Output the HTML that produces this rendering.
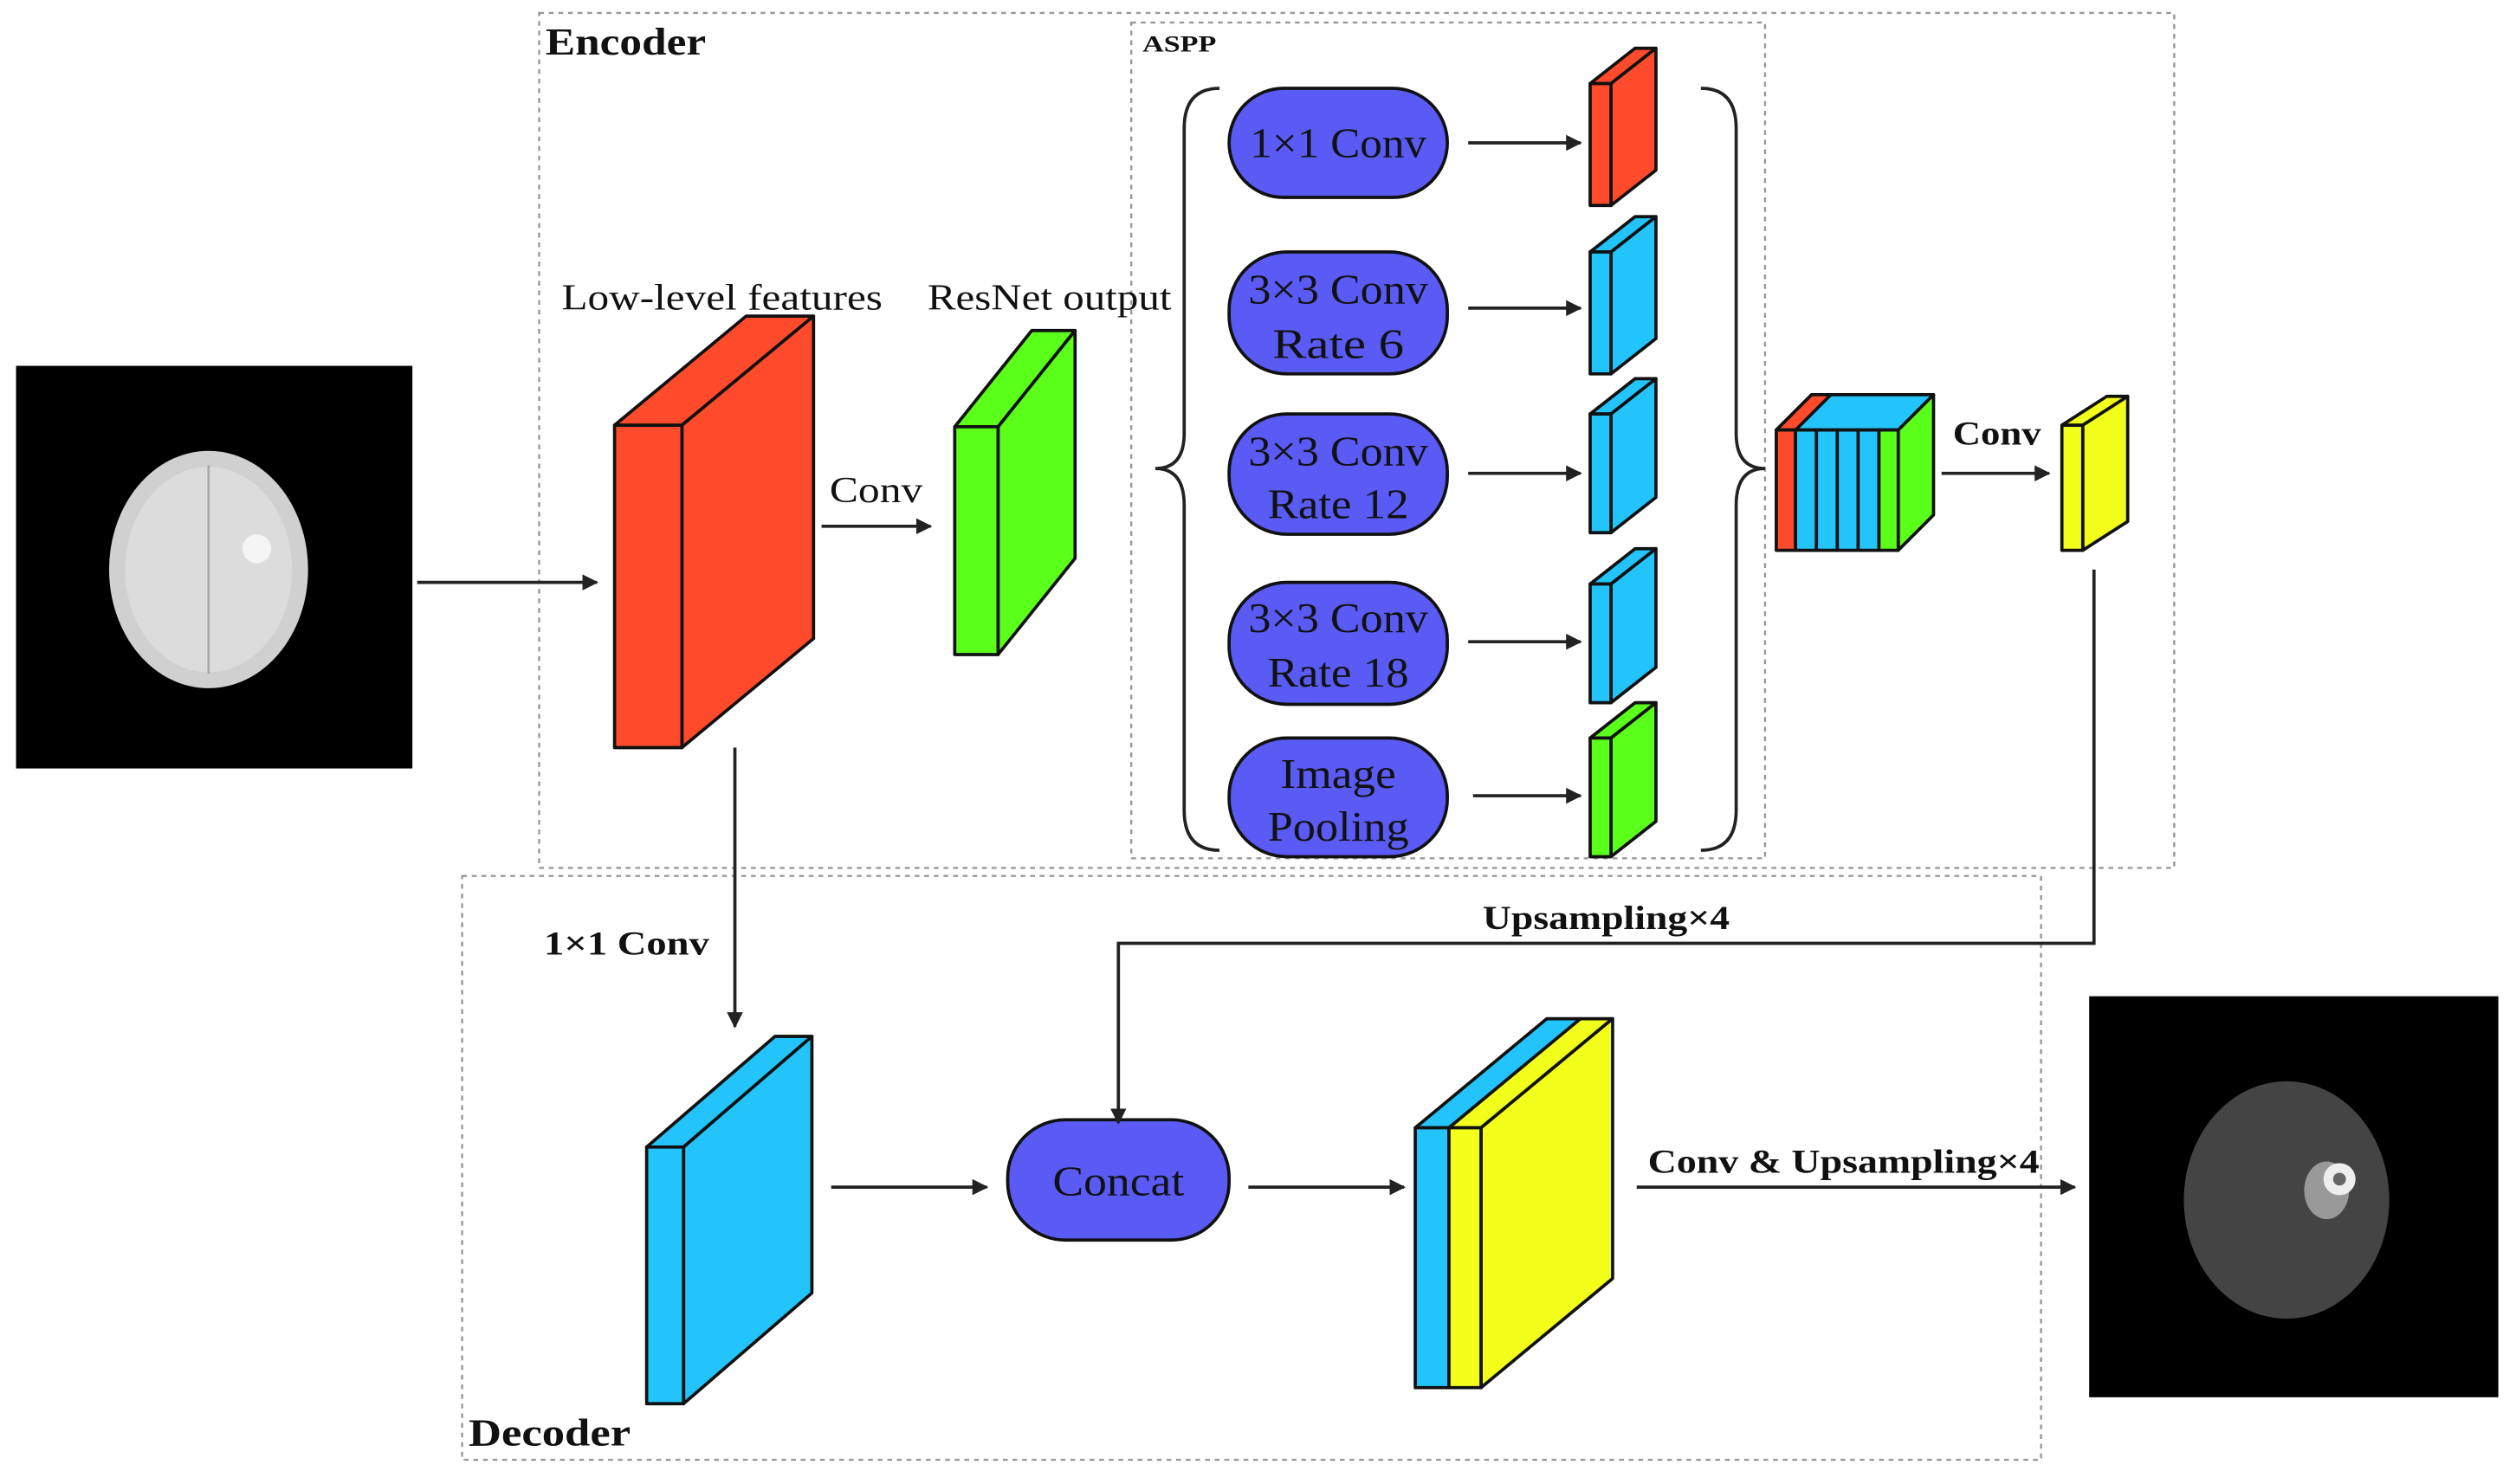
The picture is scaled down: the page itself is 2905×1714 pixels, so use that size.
<!DOCTYPE html>
<html><head><meta charset="utf-8"><style>
html,body{margin:0;padding:0;background:#fff;}
svg{display:block;}
text{font-family:"Liberation Serif",serif;fill:#111;}
</style></head><body>
<svg width="2905" height="1714" viewBox="0 0 1568 925" xmlns="http://www.w3.org/2000/svg">
<defs>
<marker id="a" markerWidth="10" markerHeight="10" refX="9" refY="5" orient="auto" markerUnits="userSpaceOnUse">
<path d="M0,0 L10,5 L0,10 Z" fill="#222"/></marker>
</defs>
<rect width="1568" height="925" fill="#fff"/>
<g fill="none" stroke="#999" stroke-width="1.3" stroke-dasharray="3,3">
<rect x="336" y="8" width="1019" height="533"/>
<rect x="705" y="14" width="395" height="521"/>
<rect x="288" y="546" width="984" height="364"/>
</g>
<text x="340" y="34" font-size="24" font-weight="bold" textLength="100" lengthAdjust="spacingAndGlyphs">Encoder</text>
<text x="712" y="32" font-size="14" font-weight="bold" textLength="46" lengthAdjust="spacingAndGlyphs">ASPP</text>
<text x="292" y="901" font-size="24" font-weight="bold" textLength="101" lengthAdjust="spacingAndGlyphs">Decoder</text>

<rect x="10" y="228" width="247" height="251" fill="#000"/>
<ellipse cx="130" cy="355" rx="62" ry="74" fill="#d0d0d0"/>
<ellipse cx="130" cy="355" rx="52" ry="64" fill="#dcdcdc"/>
<path d="M130,290 L130,420" stroke="#aaa" stroke-width="1.5"/>
<circle cx="160" cy="342" r="9" fill="#f5f5f5"/>
<line x1="260" y1="363" x2="372" y2="363" stroke="#222" stroke-width="2" marker-end="url(#a)"/>

<g stroke="#111" stroke-width="2" stroke-linejoin="round">
<polygon points="383,265 465,197 507,197 425,265" fill="#ff4b2b"/>
<polygon points="425,265 507,197 507,398 425,466" fill="#ff4b2b"/>
<rect x="383" y="265" width="42" height="201" fill="#ff4b2b"/>
<polygon points="595,266 643,206 670,206 622,266" fill="#5aff1a"/>
<polygon points="622,266 670,206 670,348 622,408" fill="#5aff1a"/>
<rect x="595" y="266" width="27" height="142" fill="#5aff1a"/>
</g>
<text x="350" y="193" font-size="23" textLength="200" lengthAdjust="spacingAndGlyphs">Low-level features</text>
<text x="578" y="193" font-size="23" textLength="152" lengthAdjust="spacingAndGlyphs">ResNet output</text>
<text x="517" y="313" font-size="23" textLength="58" lengthAdjust="spacingAndGlyphs">Conv</text>
<line x1="512" y1="328" x2="580" y2="328" stroke="#222" stroke-width="2" marker-end="url(#a)"/>

<path d="M760,55 Q738,55 738,80 L738,270 Q738,292 720,292 Q738,292 738,315 L738,505 Q738,530 760,530" fill="none" stroke="#222" stroke-width="2"/>
<path d="M1060,55 Q1082,55 1082,80 L1082,270 Q1082,292 1100,292 Q1082,292 1082,315 L1082,505 Q1082,530 1060,530" fill="none" stroke="#222" stroke-width="2"/>

<g fill="#5a5af5" stroke="#111" stroke-width="2">
<rect x="766" y="55" width="136" height="68" rx="34"/>
<rect x="766" y="157" width="136" height="76" rx="36"/>
<rect x="766" y="258" width="136" height="75" rx="36"/>
<rect x="766" y="363" width="136" height="76" rx="36"/>
<rect x="766" y="460" width="136" height="74" rx="36"/>
<rect x="628" y="698" width="138" height="75" rx="36"/>
</g>
<g font-size="26" text-anchor="middle" lengthAdjust="spacingAndGlyphs">
<text x="834" y="98" textLength="110" lengthAdjust="spacingAndGlyphs">1×1 Conv</text>
<text x="834" y="189" textLength="112" lengthAdjust="spacingAndGlyphs">3×3 Conv</text><text x="834" y="223" textLength="82" lengthAdjust="spacingAndGlyphs">Rate 6</text>
<text x="834" y="290" textLength="112" lengthAdjust="spacingAndGlyphs">3×3 Conv</text><text x="834" y="323" textLength="88" lengthAdjust="spacingAndGlyphs">Rate 12</text>
<text x="834" y="394" textLength="112" lengthAdjust="spacingAndGlyphs">3×3 Conv</text><text x="834" y="428" textLength="88" lengthAdjust="spacingAndGlyphs">Rate 18</text>
<text x="834" y="491" textLength="72" lengthAdjust="spacingAndGlyphs">Image</text><text x="834" y="524" textLength="88" lengthAdjust="spacingAndGlyphs">Pooling</text>
<text x="697" y="745" textLength="82" lengthAdjust="spacingAndGlyphs">Concat</text>
</g>
<g stroke="#222" stroke-width="2" marker-end="url(#a)">
<line x1="915" y1="89" x2="985" y2="89"/>
<line x1="915" y1="192" x2="985" y2="192"/>
<line x1="915" y1="295" x2="985" y2="295"/>
<line x1="915" y1="400" x2="985" y2="400"/>
<line x1="918" y1="496" x2="985" y2="496"/>
</g>

<g stroke="#111" stroke-width="2" stroke-linejoin="round">
<g fill="#ff4b2b"><polygon points="991,52 1019,30 1032,30 1004,52"/><polygon points="1004,52 1032,30 1032,106 1004,128"/><rect x="991" y="52" width="13" height="76"/></g>
<g fill="#22c4fb"><polygon points="991,157 1019,135 1032,135 1004,157"/><polygon points="1004,157 1032,135 1032,211 1004,233"/><rect x="991" y="157" width="13" height="76"/></g>
<g fill="#22c4fb"><polygon points="991,258 1019,236 1032,236 1004,258"/><polygon points="1004,258 1032,236 1032,310 1004,332"/><rect x="991" y="258" width="13" height="74"/></g>
<g fill="#22c4fb"><polygon points="991,364 1019,342 1032,342 1004,364"/><polygon points="1004,364 1032,342 1032,416 1004,438"/><rect x="991" y="364" width="13" height="74"/></g>
<g fill="#5aff1a"><polygon points="991,460 1019,438 1032,438 1004,460"/><polygon points="1004,460 1032,438 1032,512 1004,534"/><rect x="991" y="460" width="13" height="74"/></g>
<polygon points="1107,268 1129,246 1205,246 1183,268" fill="#22c4fb"/>
<polygon points="1107,268 1129,246 1141,246 1119,268" fill="#ff4b2b"/>
<polygon points="1183,268 1205,246 1205,321 1183,343" fill="#5aff1a"/>
<rect x="1107" y="268" width="12" height="75" fill="#ff4b2b"/>
<rect x="1119" y="268" width="13" height="75" fill="#22c4fb"/>
<rect x="1132" y="268" width="13" height="75" fill="#22c4fb"/>
<rect x="1145" y="268" width="13" height="75" fill="#22c4fb"/>
<rect x="1158" y="268" width="13" height="75" fill="#22c4fb"/>
<rect x="1171" y="268" width="12" height="75" fill="#5aff1a"/>
<polygon points="1285,265 1313,247 1326,247 1298,265" fill="#f2ff1a"/>
<polygon points="1298,265 1326,247 1326,325 1298,343" fill="#f2ff1a"/>
<rect x="1285" y="265" width="13" height="78" fill="#f2ff1a"/>
<polygon points="403,715 483,646 506,646 426,715" fill="#22c4fb"/>
<polygon points="426,715 506,646 506,806 426,875" fill="#22c4fb"/>
<rect x="403" y="715" width="23" height="160" fill="#22c4fb"/>
<polygon points="882,703 964,635 985,635 903,703" fill="#22c4fb"/>
<polygon points="903,703 985,635 1005,635 923,703" fill="#f2ff1a"/>
<polygon points="923,703 1005,635 1005,797 923,865" fill="#f2ff1a"/>
<rect x="882" y="703" width="21" height="162" fill="#22c4fb"/>
<rect x="903" y="703" width="20" height="162" fill="#f2ff1a"/>
</g>
<text x="1217" y="277" font-size="21" font-weight="bold" textLength="55" lengthAdjust="spacingAndGlyphs">Conv</text>
<line x1="1210" y1="295" x2="1277" y2="295" stroke="#222" stroke-width="2" marker-end="url(#a)"/>

<polyline points="1305,355 1305,588 697,588 697,700" fill="none" stroke="#222" stroke-width="2" marker-end="url(#a)"/>
<text x="924" y="579" font-size="21" font-weight="bold" textLength="154" lengthAdjust="spacingAndGlyphs">Upsampling×4</text>
<line x1="458" y1="466" x2="458" y2="640" stroke="#222" stroke-width="2" marker-end="url(#a)"/>
<text x="339" y="595" font-size="21" font-weight="bold" textLength="103" lengthAdjust="spacingAndGlyphs">1×1 Conv</text>
<line x1="518" y1="740" x2="615" y2="740" stroke="#222" stroke-width="2" marker-end="url(#a)"/>
<line x1="778" y1="740" x2="875" y2="740" stroke="#222" stroke-width="2" marker-end="url(#a)"/>
<line x1="1020" y1="740" x2="1293" y2="740" stroke="#222" stroke-width="2" marker-end="url(#a)"/>
<text x="1027" y="731" font-size="21" font-weight="bold" textLength="244" lengthAdjust="spacingAndGlyphs">Conv &amp; Upsampling×4</text>

<rect x="1302" y="621" width="255" height="250" fill="#000"/>
<ellipse cx="1425" cy="748" rx="64" ry="74" fill="#444"/>
<ellipse cx="1450" cy="742" rx="14" ry="18" fill="#999"/>
<circle cx="1458" cy="735" r="10" fill="#eee"/>
<circle cx="1458" cy="735" r="4" fill="#666"/>
</svg>
</body></html>
